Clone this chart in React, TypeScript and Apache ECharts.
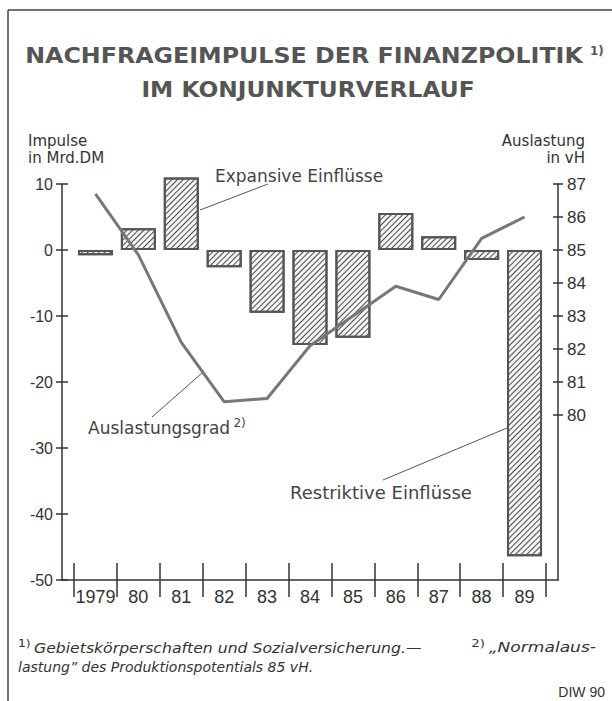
import React, { useEffect, useRef } from "react";
import * as echarts from "echarts";

// ---- data ----
const years = ["1979", "80", "81", "82", "83", "84", "85", "86", "87", "88", "89"];
const impulses = [-0.8, 3.3, 11.0, -2.6, -9.5, -14.4, -13.3, 5.6, 2.1, -1.5, -46.4];
const utilisation = [86.7, 84.85, 82.2, 80.4, 80.5, 82.1, 83.0, 83.9, 83.5, 85.35, 86.0];
const leftTickValues = [-50, -40, -30, -20, -10, 0, 10];
const rightTickValues = [80, 81, 82, 83, 84, 85, 86, 87];
const rightMin = 75;

const titleLine1 = "NACHFRAGEIMPULSE DER FINANZPOLITIK";
const titleLine2 = "IM KONJUNKTURVERLAUF";
const leftAxisName = ["Impulse", "in Mrd.DM"];
const rightAxisName = ["Auslastung", "in vH"];

const INK = "#333";
const GREY = "#555";
const NUM = "'Liberation Sans', sans-serif";
const SANS = "'DejaVu Sans', 'Liberation Sans', sans-serif";

export default function App() {
  const ref = useRef<HTMLDivElement>(null);

  useEffect(() => {
    document.body.style.margin = "0";
    if (!ref.current) return;
    const chart = echarts.init(ref.current, undefined, { renderer: "svg" });

    const idx = years.map((_, i) => i);
    const bounds = [...years.map((_, i) => i - 0.5), years.length - 0.5];
    const xMin = -0.78;
    const xMax = years.length - 1 + 0.78;
    const line = { color: INK, width: 1.5 };

    const xBase = {
      type: "value",
      position: "bottom",
      min: xMin,
      max: xMax,
      splitLine: { show: false },
    };

    const supRich = {
      s: { fontSize: 11, fontFamily: SANS, fill: INK, verticalAlign: "top", padding: [0, 3, 0, 0] },
      i: { fontSize: 14, fontStyle: "italic", fontFamily: SANS, fill: INK, lineHeight: 20 },
    };

    const option: any = {
      animation: false,
      backgroundColor: "#fff",
      grid: { left: 62, right: 54, top: 184, bottom: 121 },
      xAxis: [
        {
          ...xBase,
          axisLine: { show: true, onZero: false, lineStyle: line },
          axisTick: { show: true, customValues: bounds, length: 17, lineStyle: line },
          axisLabel: {
            show: true,
            customValues: idx,
            formatter: (v: number) => years[Math.round(v)] ?? "",
            margin: 8,
            fontSize: 18,
            fontFamily: NUM,
            color: INK,
          },
        },
        {
          ...xBase,
          axisLine: { show: false, onZero: false },
          axisTick: { show: true, inside: true, customValues: bounds, length: 17, lineStyle: line },
          axisLabel: { show: false },
        },
      ],
      yAxis: [
        {
          type: "value",
          position: "left",
          min: leftTickValues[0],
          max: leftTickValues[leftTickValues.length - 1],
          interval: 10,
          axisLine: { show: true, onZero: false, lineStyle: line },
          axisTick: { show: true, length: 6, lineStyle: line },
          axisLabel: { margin: 9, fontSize: 16, fontFamily: NUM, color: INK },
          splitLine: { show: false },
        },
        {
          type: "value",
          position: "left",
          min: leftTickValues[0],
          max: leftTickValues[leftTickValues.length - 1],
          interval: 10,
          axisLine: { show: false, onZero: false },
          axisTick: { show: true, inside: true, length: 6, lineStyle: line },
          axisLabel: { show: false },
          splitLine: { show: false },
        },
        {
          type: "value",
          position: "right",
          min: rightMin,
          max: rightTickValues[rightTickValues.length - 1],
          interval: 1,
          axisLine: { show: true, onZero: false, lineStyle: line },
          axisTick: { show: true, customValues: rightTickValues, length: 5, lineStyle: line },
          axisLabel: { customValues: rightTickValues, margin: 9, fontSize: 17, fontFamily: NUM, color: INK },
          splitLine: { show: false },
        },
        {
          type: "value",
          position: "right",
          min: rightMin,
          max: rightTickValues[rightTickValues.length - 1],
          interval: 1,
          axisLine: { show: false, onZero: false },
          axisTick: { show: true, inside: true, customValues: rightTickValues, length: 5, lineStyle: line },
          axisLabel: { show: false },
          splitLine: { show: false },
        },
      ],
      series: [
        {
          type: "bar",
          xAxisIndex: 0,
          yAxisIndex: 0,
          barWidth: 35,
          clip: false,
          data: impulses.map((v, i) => [i, v]),
          itemStyle: {
            color: "#f4f4f4",
            borderColor: GREY,
            borderWidth: 2,
            decal: {
              symbol: "rect",
              symbolSize: 1,
              dashArrayX: [1, 0],
              dashArrayY: [1, 2.6],
              rotation: -Math.PI / 4,
              color: "#4a4a4a",
              backgroundColor: "#f4f4f4",
            },
          },
          z: 2,
        },
        {
          type: "line",
          xAxisIndex: 0,
          yAxisIndex: 2,
          clip: false,
          data: utilisation.map((v, i) => [i, v]),
          symbol: "none",
          lineStyle: { color: "#777", width: 3 },
          z: 5,
        },
      ],
      graphic: [
        // frame
        { type: "line", shape: { x1: 8, y1: 10, x2: 612, y2: 10 }, style: { stroke: "#444", lineWidth: 1.5 } },
        { type: "line", shape: { x1: 8, y1: 10, x2: 8, y2: 701 }, style: { stroke: "#444", lineWidth: 1.5 } },
        // title
        {
          type: "text", x: 304, y: 55, scaleX: 1.08,
          style: { text: titleLine1, fontSize: 22, fontWeight: "bold", fontFamily: SANS, fill: GREY, align: "center", verticalAlign: "middle" },
        },
        {
          type: "text", x: 590, y: 51,
          style: { text: "1)", fontSize: 12, fontWeight: "bold", fontFamily: SANS, fill: GREY, align: "left", verticalAlign: "middle" },
        },
        {
          type: "text", x: 308, y: 89, scaleX: 1.06,
          style: { text: titleLine2, fontSize: 22, fontWeight: "bold", fontFamily: SANS, fill: GREY, align: "center", verticalAlign: "middle" },
        },
        // axis names
        {
          type: "text", x: 28, y: 149,
          style: { text: leftAxisName.join("\n"), fontSize: 15, fontFamily: SANS, fill: INK, lineHeight: 17, align: "left", verticalAlign: "middle" },
        },
        {
          type: "text", x: 585, y: 149,
          style: { text: rightAxisName.join("\n"), fontSize: 15, fontFamily: SANS, fill: INK, lineHeight: 17, align: "right", verticalAlign: "middle" },
        },
        // annotations
        { type: "line", shape: { x1: 200, y1: 210, x2: 268, y2: 184 }, style: { stroke: "#555", lineWidth: 1 } },
        {
          type: "text", x: 215, y: 176,
          style: { text: "Expansive Einflüsse", fontSize: 17, fontFamily: SANS, fill: "#444", align: "left", verticalAlign: "middle" },
        },
        { type: "line", shape: { x1: 152, y1: 417, x2: 202, y2: 373 }, style: { stroke: "#555", lineWidth: 1 } },
        {
          type: "text", x: 88, y: 428,
          style: {
            text: "{m|Auslastungsgrad} {s|2)}",
            align: "left", verticalAlign: "middle",
            rich: {
              m: { fontSize: 17, fontFamily: SANS, fill: "#444", lineHeight: 22 },
              s: { fontSize: 12, fontFamily: SANS, fill: "#444", verticalAlign: "top" },
            },
          },
        },
        { type: "line", shape: { x1: 383, y1: 480, x2: 507, y2: 428 }, style: { stroke: "#555", lineWidth: 1 } },
        {
          type: "text", x: 290, y: 492,
          style: { text: "Restriktive Einflüsse", fontSize: 18, fontFamily: SANS, fill: "#444", align: "left", verticalAlign: "middle" },
        },
        // footnotes
        {
          type: "text", x: 18, y: 648, scaleX: 1.12,
          style: {
            text: "{s|1)}{i|Gebietskörperschaften und Sozialversicherung.—}",
            align: "left", verticalAlign: "middle",
            rich: supRich,
          },
        },
        {
          type: "text", x: 596, y: 648, scaleX: 1.22,
          style: {
            text: "{s|2)}{i|„Normalaus-}",
            align: "right", verticalAlign: "middle",
            rich: supRich,
          },
        },
        {
          type: "text", x: 18, y: 667,
          style: { text: "lastung\u201D des Produktionspotentials 85 vH.", fontSize: 14, fontStyle: "italic", fontFamily: SANS, fill: INK, align: "left", verticalAlign: "middle" },
        },
        {
          type: "text", x: 605, y: 692,
          style: { text: "DIW 90", fontSize: 14, fontFamily: NUM, fill: INK, align: "right", verticalAlign: "middle" },
        },
      ],
    };

    chart.setOption(option);
    return () => chart.dispose();
  }, []);

  return <div ref={ref} style={{ width: 612, height: 701 }} />;
}
